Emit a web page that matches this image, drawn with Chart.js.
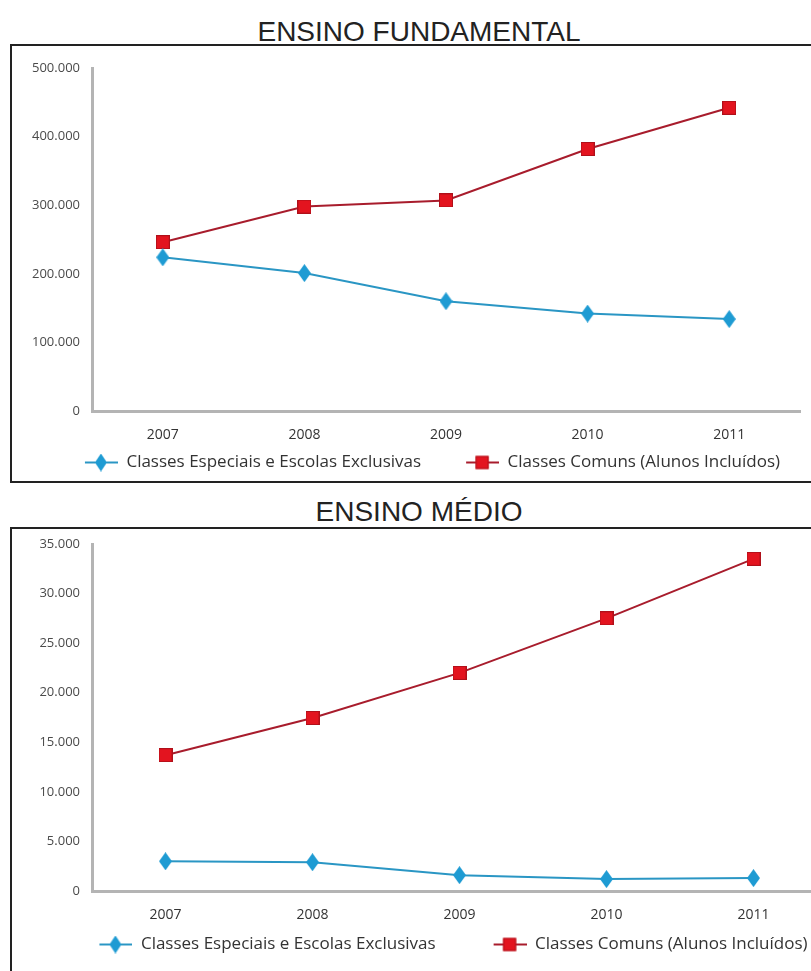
<!DOCTYPE html>
<html>
<head>
<meta charset="utf-8">
<script src="https://cdn.jsdelivr.net/npm/chart.js@4.4.1/dist/chart.umd.min.js"></script>
<style>
  html, body { margin: 0; padding: 0; background: #fff; overflow: hidden; }
  #page { position: relative; width: 811px; height: 971px; overflow: hidden; }
  .title { position: absolute; left: 0; width: 838px; text-align: center; line-height: 32px;
           font-family: "Liberation Sans", Arial, sans-serif; font-size: 28px; color: #222; }
  .box { position: absolute; left: 10px; border: 2px solid #222; background: #fff; }
  .box canvas { display: block; }
</style>
</head>
<body>
<div id="page">
  <div class="title" style="top:16px">ENSINO FUNDAMENTAL</div>
  <div class="box" style="top:44px"><canvas id="chart1" width="846" height="435"></canvas></div>
  <div class="title" style="top:496px">ENSINO MÉDIO</div>
  <div class="box" style="top:527px"><canvas id="chart2" width="900" height="450"></canvas></div>
</div>
<script>
// data
const years = ['2007', '2008', '2009', '2010', '2011']
const seriesNames = ['Classes Especiais e Escolas Exclusivas', 'Classes Comuns (Alunos Incluídos)']

const fundEspeciais = [224000, 201000, 160000, 142000, 134000]
const fundComuns = [246000, 298000, 307000, 382000, 442000]
const fundMax = 500000
const fundStep = 100000

const medioEspeciais = [3000, 2900, 1600, 1200, 1300]
const medioComuns = [13700, 17450, 22000, 27500, 33500]
const medioMax = 35000
const medioStep = 5000

const blue = '#1e9bd3'
const blueLine = '#2a96c4'
const red = '#e3141f'
const redLine = '#a81c2c'
const font = '"Open Sans", sans-serif'

function fmt(v) {
    return String(v).replace(/\B(?=(\d{3})+(?!\d))/g, '.')
}

function drawDiamond(ctx, cx, cy, w, h, color) {
    ctx.fillStyle = color
    ctx.beginPath()
    ctx.moveTo(cx, cy - h / 2)
    ctx.lineTo(cx + w / 2, cy)
    ctx.lineTo(cx, cy + h / 2)
    ctx.lineTo(cx - w / 2, cy)
    ctx.closePath()
    ctx.fill()
}

function drawSquare(ctx, cx, cy, s, color) {
    ctx.fillStyle = color
    ctx.fillRect(cx - s / 2, cy - s / 2, s, s)
    ctx.strokeStyle = '#b0101a'
    ctx.lineWidth = 1
    ctx.strokeRect(cx - s / 2 + 0.5, cy - s / 2 + 0.5, s - 1, s - 1)
}

function diamondImg() {
    const c = document.createElement('canvas')
    c.width = 13; c.height = 18
    drawDiamond(c.getContext('2d'), 6.5, 9, 13, 18, blue)
    return c
}

function squareImg() {
    const c = document.createElement('canvas')
    c.width = 14; c.height = 14
    drawSquare(c.getContext('2d'), 7, 7, 14, red)
    return c
}

// legend swatch: line with the marker, the transparent part on the left is the gap
function legendImg(kind, w) {
    const c = document.createElement('canvas')
    c.width = w; c.height = 18
    const ctx = c.getContext('2d')
    const x0 = w - 33
    ctx.strokeStyle = kind == 'diamond' ? blueLine : redLine
    ctx.lineWidth = 2
    ctx.beginPath()
    ctx.moveTo(x0, 9)
    ctx.lineTo(w, 9)
    ctx.stroke()
    if (kind == 'diamond') {
        drawDiamond(ctx, x0 + 16, 9, 12, 18, blue)
    } else {
        drawSquare(ctx, x0 + 16, 9, 13, red)
    }
    return c
}

// the legend row in the picture is not centred under the plot, nudge it
function legendShift(dx) {
    return {
        id: 'legendShift',
        afterLayout: function (chart) {
            chart.legend.left += dx
            chart.legend.right += dx
        }
    }
}

function makeChart(id, especiais, comuns, max, step, opts) {
    const legendIcons = [legendImg('diamond', opts.swatch), legendImg('square', opts.swatch)]
    return new Chart(document.getElementById(id), {
        type: 'line',
        data: {
            labels: years,
            datasets: [{
                label: seriesNames[0],
                data: especiais,
                borderColor: blueLine,
                backgroundColor: blue,
                borderWidth: 2,
                pointStyle: diamondImg(),
                tension: 0
            }, {
                label: seriesNames[1],
                data: comuns,
                borderColor: redLine,
                backgroundColor: red,
                borderWidth: 2,
                pointStyle: squareImg(),
                tension: 0
            }]
        },
        options: {
            responsive: false,
            animation: false,
            layout: { padding: opts.padding },
            plugins: {
                tooltip: { enabled: false },
                legend: {
                    position: 'bottom',
                    labels: {
                        usePointStyle: true,
                        pointStyleWidth: opts.swatch,
                        padding: 10,
                        color: '#333',
                        font: { family: font, size: 17 },
                        generateLabels: function (chart) {
                            return chart.data.datasets.map(function (ds, i) {
                                return {
                                    text: ds.label,
                                    pointStyle: legendIcons[i],
                                    fillStyle: ds.backgroundColor,
                                    strokeStyle: ds.borderColor,
                                    lineWidth: 0,
                                    fontColor: '#333',
                                    datasetIndex: i
                                }
                            })
                        }
                    }
                }
            },
            scales: {
                x: {
                    offset: true,
                    grid: { display: false },
                    border: { color: '#b4b4b4', width: 3 },
                    ticks: { color: '#333', padding: 8, font: { family: font, size: 14 } },
                    afterFit: function (s) { s.height = opts.xHeight }
                },
                y: {
                    min: 0,
                    max: max,
                    grid: { display: false },
                    border: { color: '#b4b4b4', width: 3 },
                    ticks: {
                        stepSize: step,
                        color: '#4a4a4a',
                        padding: 4,
                        font: { family: font, size: 13 },
                        callback: function (v) { return fmt(v) }
                    },
                    afterFit: function (s) { s.width = 80 }
                }
            }
        },
        plugins: [legendShift(opts.shift)]
    })
}

makeChart('chart1', fundEspeciais, fundComuns, fundMax, fundStep, {
    padding: { left: 0, right: 58, top: 22, bottom: 0 },
    xHeight: 33,
    swatch: 68,
    shift: 9
})

makeChart('chart2', medioEspeciais, medioComuns, medioMax, medioStep, {
    padding: { left: 0, right: 85, top: 15, bottom: 16 },
    xHeight: 35,
    swatch: 81,
    shift: 10
})
</script>
</body>
</html>
